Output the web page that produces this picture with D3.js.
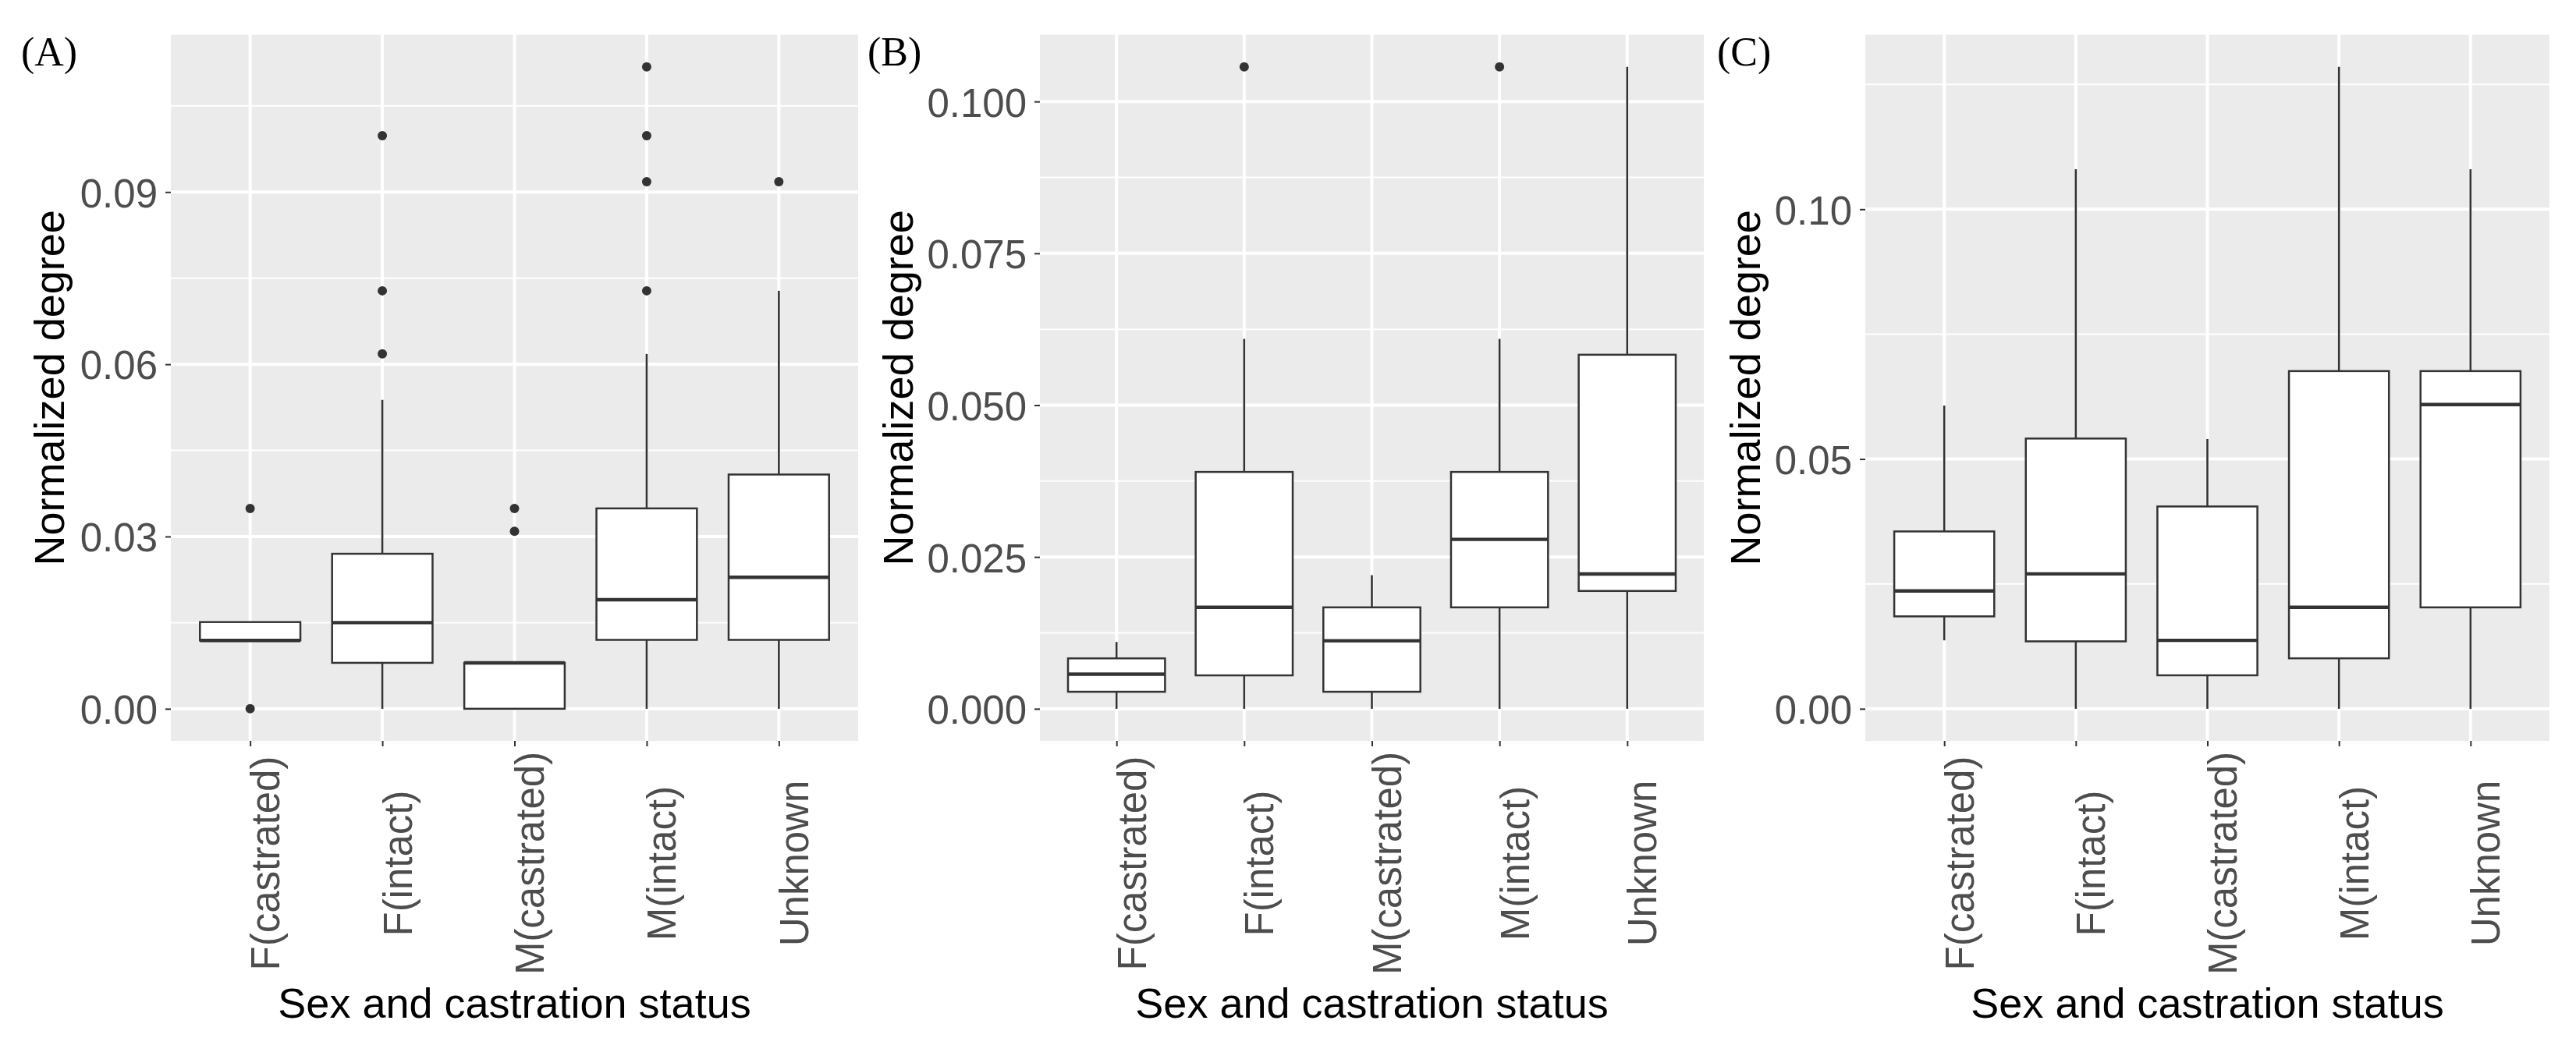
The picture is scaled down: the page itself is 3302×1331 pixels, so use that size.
<!DOCTYPE html>
<html><head><meta charset="utf-8">
<script src="https://cdn.jsdelivr.net/npm/d3@7"></script>
<style>html,body{margin:0;padding:0;background:#fff;} svg{display:block;}</style>
</head><body>
<svg id="chart" width="3302" height="1331"></svg>
<script>
// ---------- data ----------
const categories = ["F(castrated)", "F(intact)", "M(castrated)", "M(intact)", "Unknown"];
const panelLabels = ["(A)", "(B)", "(C)"];
const xTitle = "Sex and castration status";
const yTitle = "Normalized degree";

const yTicksA = [0, 0.03, 0.06, 0.09];
const yTickLabelsA = ["0.00", "0.03", "0.06", "0.09"];
const whiskerLowA  = [0.0119, 0, 0, 0, 0];
const q1A          = [0.0119, 0.0080, 0, 0.0120, 0.0120];
const medianA      = [0.0119, 0.0150, 0.0080, 0.0190, 0.0229];
const q3A          = [0.0151, 0.0270, 0.0080, 0.0349, 0.0408];
const whiskerHighA = [0.0151, 0.0538, 0.0080, 0.0618, 0.0728];
const outliersA    = [[0, 0.0349], [0.0998, 0.0728, 0.0618], [0.0349, 0.0309], [0.1118, 0.0998, 0.0918, 0.0728], [0.0918]];

const yTicksB = [0, 0.025, 0.05, 0.075, 0.1];
const yTickLabelsB = ["0.000", "0.025", "0.050", "0.075", "0.100"];
const whiskerLowB  = [0, 0, 0, 0, 0];
const q1B          = [0.0028, 0.0055, 0.0028, 0.0167, 0.0194];
const medianB      = [0.0057, 0.0167, 0.0112, 0.0279, 0.0222];
const q3B          = [0.0083, 0.0390, 0.0167, 0.0390, 0.0583];
const whiskerHighB = [0.0110, 0.0609, 0.0220, 0.0609, 0.1057];
const outliersB    = [[], [0.1057], [], [0.1057], []];

const yTicksC = [0, 0.05, 0.10];
const yTickLabelsC = ["0.00", "0.05", "0.10"];
const whiskerLowC  = [0.0137, 0, 0, 0, 0];
const q1C          = [0.0185, 0.0135, 0.0067, 0.0101, 0.0203];
const medianC      = [0.0236, 0.0270, 0.0137, 0.0203, 0.0609];
const q3C          = [0.0355, 0.0541, 0.0405, 0.0676, 0.0676];
const whiskerHighC = [0.0607, 0.1080, 0.0540, 0.1285, 0.1080];
const outliersC    = [[], [], [], [], []];

// ---------- layout ----------
const W = 3302, H = 1331;
const panelTop = 44.6, panelBottom = 950;
const layout = [
  {left: 219,  right: 1100, titleX: 82,   labelX: 27},
  {left: 1333, right: 2184, titleX: 1170, labelX: 1112},
  {left: 2391, right: 3268, titleX: 2256, labelX: 2201}
];
const panels = [
  {label: panelLabels[0], ticks: yTicksA, tickLabels: yTickLabelsA, lo: whiskerLowA, q1: q1A, med: medianA, q3: q3A, hi: whiskerHighA, out: outliersA},
  {label: panelLabels[1], ticks: yTicksB, tickLabels: yTickLabelsB, lo: whiskerLowB, q1: q1B, med: medianB, q3: q3B, hi: whiskerHighB, out: outliersB},
  {label: panelLabels[2], ticks: yTicksC, tickLabels: yTickLabelsC, lo: whiskerLowC, q1: q1C, med: medianC, q3: q3C, hi: whiskerHighC, out: outliersC}
];

const sans = "'Liberation Sans', Arial, Helvetica, sans-serif";
const serif = "'Liberation Serif', 'Times New Roman', serif";
const boxColor = "#333333";

const svg = d3.select("#chart");
svg.append("rect").attr("width", W).attr("height", H).attr("fill", "#ffffff");

panels.forEach((p, i) => {
  const L = layout[i];
  const all = [...p.lo, ...p.hi, ...p.out.flat()];
  const mn = d3.min(all), mx = d3.max(all);
  const pad = (mx - mn) * 0.05;
  const y = d3.scaleLinear().domain([mn - pad, mx + pad]).range([panelBottom, panelTop]);
  const x = d3.scalePoint().domain(categories).range([L.left, L.right]).padding(0.6);
  const step = x.step();
  const g = svg.append("g");

  // background
  g.append("rect").attr("x", L.left).attr("y", panelTop)
    .attr("width", L.right - L.left).attr("height", panelBottom - panelTop)
    .attr("fill", "#EBEBEB");

  // minor grid
  const d = p.ticks[1] - p.ticks[0];
  const minor = [];
  for (let t = p.ticks[0] - d / 2; t <= y.domain()[1]; t += d) {
    if (t >= y.domain()[0]) minor.push(t);
  }
  g.selectAll("line.minor").data(minor).join("line").attr("class", "minor")
    .attr("x1", L.left).attr("x2", L.right)
    .attr("y1", v => y(v)).attr("y2", v => y(v))
    .attr("stroke", "#ffffff").attr("stroke-width", 2);

  // major grid
  g.selectAll("line.majory").data(p.ticks).join("line").attr("class", "majory")
    .attr("x1", L.left).attr("x2", L.right)
    .attr("y1", v => y(v)).attr("y2", v => y(v))
    .attr("stroke", "#ffffff").attr("stroke-width", 4);
  g.selectAll("line.majorx").data(categories).join("line").attr("class", "majorx")
    .attr("x1", c => x(c)).attr("x2", c => x(c))
    .attr("y1", panelTop).attr("y2", panelBottom)
    .attr("stroke", "#ffffff").attr("stroke-width", 4);

  // boxes
  const boxes = categories.map((c, k) => ({c, lo: p.lo[k], q1: p.q1[k], med: p.med[k], q3: p.q3[k], hi: p.hi[k], out: p.out[k]}));
  const bw = step * 0.76;
  const bg = g.selectAll("g.box").data(boxes).join("g").attr("class", "box");
  bg.filter(b => b.hi > b.q3).append("line")
    .attr("x1", b => x(b.c)).attr("x2", b => x(b.c))
    .attr("y1", b => y(b.q3)).attr("y2", b => y(b.hi))
    .attr("stroke", boxColor).attr("stroke-width", 2.6);
  bg.filter(b => b.lo < b.q1).append("line")
    .attr("x1", b => x(b.c)).attr("x2", b => x(b.c))
    .attr("y1", b => y(b.q1)).attr("y2", b => y(b.lo))
    .attr("stroke", boxColor).attr("stroke-width", 2.6);
  bg.append("rect")
    .attr("x", b => x(b.c) - bw / 2).attr("width", bw)
    .attr("y", b => y(b.q3)).attr("height", b => y(b.q1) - y(b.q3))
    .attr("fill", "#ffffff").attr("stroke", boxColor).attr("stroke-width", 2.5);
  bg.append("line")
    .attr("x1", b => x(b.c) - bw / 2).attr("x2", b => x(b.c) + bw / 2)
    .attr("y1", b => y(b.med)).attr("y2", b => y(b.med))
    .attr("stroke", boxColor).attr("stroke-width", 4.4);
  bg.selectAll("circle").data(b => b.out.map(v => ({c: b.c, v}))).join("circle")
    .attr("cx", o => x(o.c)).attr("cy", o => y(o.v)).attr("r", 6)
    .attr("fill", boxColor);

  // y axis
  const ya = g.append("g").attr("transform", `translate(${L.left},0)`)
    .call(d3.axisLeft(y).tickValues(p.ticks).tickFormat((v, k) => p.tickLabels[k]).tickSize(7).tickPadding(10));
  ya.select(".domain").remove();
  ya.selectAll(".tick line").attr("stroke", boxColor).attr("stroke-width", 2);
  ya.selectAll(".tick text").attr("font-family", sans).attr("font-size", 51)
    .attr("fill", "#4D4D4D").attr("dy", "0.37em");

  // x axis
  const xa = g.append("g").attr("transform", `translate(0,${panelBottom})`)
    .call(d3.axisBottom(x).tickSize(7).tickPadding(10));
  xa.select(".domain").remove();
  xa.selectAll(".tick line").attr("stroke", boxColor).attr("stroke-width", 2);
  xa.selectAll(".tick text").attr("font-family", sans).attr("font-size", 51)
    .attr("fill", "#4D4D4D")
    .attr("transform", "rotate(-90)")
    .attr("text-anchor", "middle")
    .attr("x", -157).attr("y", 37).attr("dy", 0);

  // titles
  g.append("text")
    .attr("transform", `translate(${L.titleX},${(panelTop + panelBottom) / 2}) rotate(-90)`)
    .attr("text-anchor", "middle").attr("font-family", sans).attr("font-size", 54)
    .attr("fill", "#000").text(yTitle);
  g.append("text")
    .attr("x", (L.left + L.right) / 2).attr("y", 1305)
    .attr("text-anchor", "middle").attr("font-family", sans).attr("font-size", 54)
    .attr("fill", "#000").text(xTitle);
  g.append("text")
    .attr("x", L.labelX).attr("y", 84)
    .attr("font-family", serif).attr("font-size", 52)
    .attr("fill", "#000").text(p.label);
});
</script>
</body></html>
